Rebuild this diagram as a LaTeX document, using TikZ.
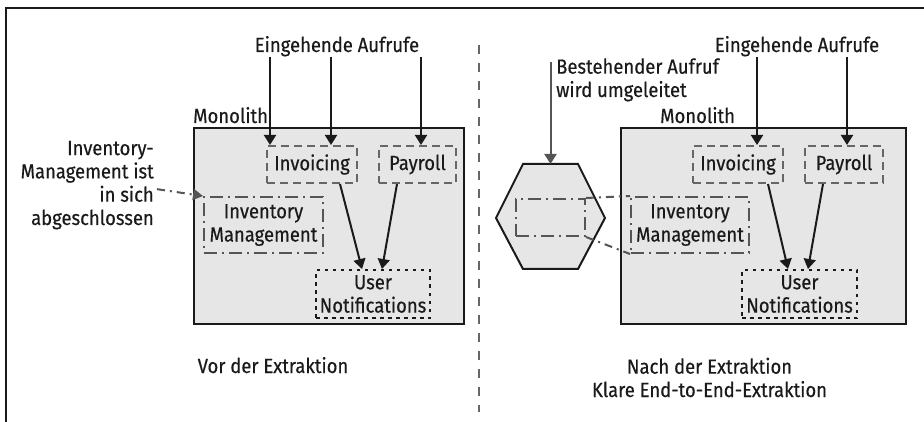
\documentclass[tikz,border=0pt]{standalone}
\usepackage{fontspec}
\setmainfont[FakeStretch=0.9,FakeBold=0.4]{Fira Sans}
\usetikzlibrary{arrows.meta}
\definecolor{boxfill}{HTML}{E6E6E6}
\definecolor{dashgray}{HTML}{666666}
\definecolor{darkgray}{HTML}{555555}
\definecolor{ink}{HTML}{1A1A1A}
\begin{document}
\begin{tikzpicture}[x=1pt,y=-1pt,
  font=\fontsize{20.5}{23.3}\selectfont,
  every node/.style={text=ink},
  txt/.style={inner sep=0pt},
  monobox/.style={draw=ink,line width=2pt,fill=boxfill,inner sep=0pt},
  svcdash/.style={draw=dashgray,line width=2pt,dash pattern=on 8pt off 5pt,inner sep=0pt,align=center},
  svcdashdot/.style={draw=darkgray,line width=2pt,dash pattern=on 13pt off 5pt on 2pt off 5pt,inner sep=0pt,align=center},
  svcdot/.style={draw=ink,line width=2pt,dash pattern=on 3.5pt off 4.5pt,inner sep=0pt,align=center},
  callarrow/.style={draw=ink,line width=2pt,-{Triangle[length=10pt,width=12pt]}},
  grayarrow/.style={draw=darkgray,line width=2pt,-{Triangle[length=10pt,width=12pt]}},
  notearrow/.style={draw=darkgray,line width=2pt,dash pattern=on 8pt off 5pt on 2pt off 5pt,-{Triangle[length=10pt,width=11pt]}},
  projline/.style={draw=darkgray,line width=2pt,dash pattern=on 8pt off 5pt on 2pt off 5pt},
  divider/.style={draw=dashgray,line width=2pt,dash pattern=on 9pt off 9pt}
]
\useasboundingbox (0,0) rectangle (924,422);

% outer frame (left and top edges)
\draw[line width=1.3pt,ink] (6,422) -- (6,8) -- (924,8);

% ---------- before the extraction ----------
\node[monobox,minimum width=270pt,minimum height=196pt] (monoL) at (329,226) {};
\node[txt,anchor=base west] (monoLlbl) at (193,123) {Monolith};
\node[svcdash,minimum width=90pt,minimum height=37pt] (invL) at (312,164.5) {Invoicing};
\node[svcdash,minimum width=77pt,minimum height=37pt] (payL) at (417.5,164.5) {Payroll};
\node[svcdashdot,minimum width=119pt,minimum height=56pt] (invmL) at (263.5,225) {Inventory\\Management};
\node[svcdot,minimum width=114pt,minimum height=48pt] (usrL) at (373,294) {User\\Notifications};

\node[txt,anchor=base] (inL) at (337,52) {Eingehende Aufrufe};
\draw[callarrow] ([xshift=-42pt]invL.north |- inL.south) -- ([xshift=-42pt]invL.north);
\draw[callarrow] ([xshift=19pt]invL.north |- inL.south) -- ([xshift=19pt]invL.north);
\draw[callarrow] ([xshift=3.5pt]payL.north |- inL.south) -- ([xshift=3.5pt]payL.north);
\draw[callarrow] ([xshift=28pt]invL.south) -- ([xshift=-11pt]usrL.north);
\draw[callarrow] ([xshift=-20.5pt]payL.south) -- ([xshift=9pt]usrL.north);

% multi-line nodes: the base anchor sits on the last line
\node[txt,anchor=base east,align=right] (noteL) at (154,225)
  {Inventory-\\Management ist\\in sich\\abgeschlossen};
\draw[notearrow] ([xshift=3pt,yshift=-4pt]noteL.east) -- (invmL.north west);

\node[txt,anchor=base] (capL) at (273,373) {Vor der Extraktion};

% separator
\draw[divider] (479,45) -- (479,412);

% ---------- after the extraction ----------
\node[monobox,minimum width=285pt,minimum height=196pt] (monoR) at (763.5,226) {};
\node[txt,anchor=base west] (monoRlbl) at (660,123) {Monolith};
\node[svcdash,minimum width=90pt,minimum height=37pt] (invR) at (738,164.5) {Invoicing};
\node[svcdash,minimum width=78pt,minimum height=37pt] (payR) at (844,164.5) {Payroll};
\node[svcdashdot,minimum width=118pt,minimum height=56pt] (invmR) at (690,225) {Inventory\\Management};
\node[svcdot,minimum width=115pt,minimum height=48pt] (usrR) at (799.5,294) {User\\Notifications};

\node[txt,anchor=base] (inR) at (797,52) {Eingehende Aufrufe};
\draw[callarrow] ([xshift=19pt]invR.north |- inR.south) -- ([xshift=19pt]invR.north);
\draw[callarrow] ([xshift=3pt]payR.north |- inR.south) -- ([xshift=3pt]payR.north);
\draw[callarrow] ([xshift=30pt]invR.south) -- ([xshift=-11.5pt]usrR.north);
\draw[callarrow] ([xshift=-21pt]payR.south) -- ([xshift=8.5pt]usrR.north);

% extracted service
\draw[ink,line width=2pt,fill=boxfill]
  (523,164) -- (578,164) -- (605,218) -- (578,269) -- (523,269) -- (496,218) -- cycle;
\coordinate (hexTop) at (550.5,164);
\node[svcdashdot,minimum width=69pt,minimum height=37pt] (hexIn) at (550.5,217.5) {};
\draw[projline] (hexIn.north east) -- (invmR.north west);
\draw[projline] (hexIn.south east) -- (invmR.south west);

\node[txt,anchor=base west,align=left] (redir) at (556,97) {Bestehender Aufruf\\wird umgeleitet};
\coordinate (redirStart) at (550.5,62);
\draw[grayarrow] (redirStart) -- (hexTop);

\node[txt,anchor=base,align=center] (capR) at (709.5,397)
  {Nach der Extraktion\\Klare End-to-End-Extraktion};
\end{tikzpicture}
\end{document}
